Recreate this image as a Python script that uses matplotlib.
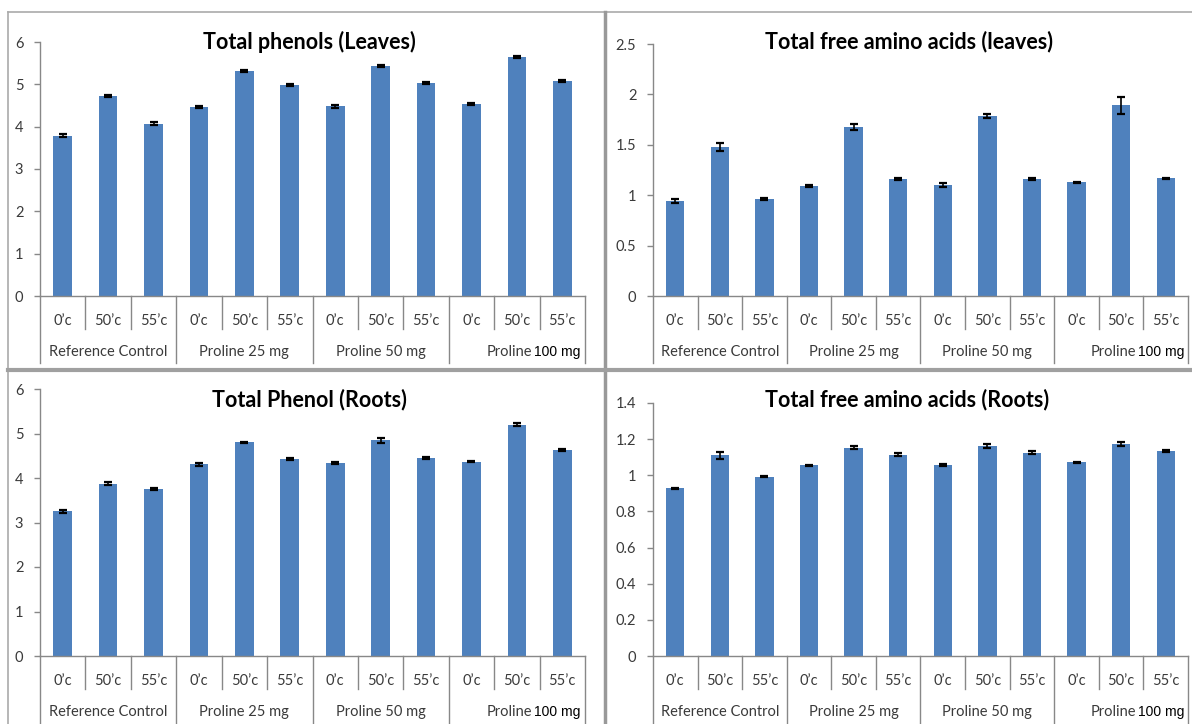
import numpy as np
import matplotlib
matplotlib.use('Agg')
from matplotlib import pyplot as plt
from matplotlib.lines import Line2D

W, H = 1192, 724

temps = ['0’c', '50’c', '55’c']
groups = ['Reference Control', 'Proline 25 mg', 'Proline 50 mg']

phenol_leaves = [3.79, 4.72, 4.07, 4.46, 5.31, 4.98, 4.48, 5.43, 5.03, 4.54, 5.65, 5.08]
phenol_leaves_err = [0.03, 0.03, 0.03, 0.03, 0.03, 0.03, 0.03, 0.03, 0.03, 0.03, 0.03, 0.03]

amino_leaves = [0.94, 1.48, 0.96, 1.09, 1.68, 1.16, 1.10, 1.79, 1.16, 1.13, 1.89, 1.17]
amino_leaves_err = [0.02, 0.04, 0.01, 0.01, 0.03, 0.01, 0.02, 0.02, 0.01, 0.005, 0.08, 0.005]

phenol_roots = [3.25, 3.87, 3.75, 4.31, 4.80, 4.43, 4.34, 4.85, 4.45, 4.37, 5.20, 4.63]
phenol_roots_err = [0.03, 0.03, 0.03, 0.03, 0.02, 0.03, 0.03, 0.06, 0.03, 0.02, 0.03, 0.03]

amino_roots = [0.927, 1.11, 0.993, 1.056, 1.153, 1.113, 1.058, 1.161, 1.126, 1.071, 1.174, 1.135]
amino_roots_err = [0.005, 0.02, 0.003, 0.003, 0.008, 0.008, 0.006, 0.01, 0.006, 0.005, 0.012, 0.005]

bar_color = '#4F81BD'
axis_gray = '#888888'
text_gray = '#3a3a3a'
base_font = 'Lato'

plt.rcParams['font.family'] = [base_font, 'DejaVu Sans']

fig = plt.figure(figsize=(W / 100, H / 100), dpi=100)
fig.patch.set_facecolor('white')


def px_axes(x0, x1, y0, y1):
    # pixel box (left, right, top, bottom) -> figure fraction axes
    return fig.add_axes([x0 / W, 1 - y1 / H, (x1 - x0) / W, (y1 - y0) / H])


def draw_panel(box, title, title_xy, vals, errs, ymax, ystep):
    x0, x1, y0, y1 = box
    ax = px_axes(x0, x1, y0, y1)
    hpx = y1 - y0
    xs = np.arange(len(vals))
    ax.bar(xs, vals, width=0.41, color=bar_color, zorder=2)
    ax.errorbar(xs, vals, yerr=errs, fmt='none', ecolor='black',
                elinewidth=1.2, capsize=3, capthick=1.6, zorder=3)
    ax.set_xlim(-0.5, len(vals) - 0.5)
    ax.set_ylim(0, ymax)
    ticks = np.arange(0, ymax + ystep / 2, ystep)
    ax.set_yticks(ticks)
    ax.set_yticklabels(['{:g}'.format(round(t, 2)) for t in ticks])
    ax.set_xticks([])
    for s in ['top', 'right']:
        ax.spines[s].set_visible(False)
    for s in ['left', 'bottom']:
        ax.spines[s].set_color(axis_gray)
        ax.spines[s].set_linewidth(1.0)
    ax.tick_params(axis='y', direction='out', length=4, width=1,
                   color=axis_gray, labelsize=10.5, labelcolor=text_gray, pad=8)

    tr = ax.get_xaxis_transform()
    row1 = -25 / hpx
    row2 = -56 / hpx
    short = -33 / hpx
    long_ = -67 / hpx
    for k in range(len(vals) + 1):
        xp = k - 0.5
        end = long_ if k % 3 == 0 else short
        ax.add_line(Line2D([xp, xp], [0, end], transform=tr, color=axis_gray,
                           lw=1.0, clip_on=False))
    for i, v in enumerate(vals):
        ax.text(i, row1, temps[i % 3], transform=tr, ha='center', va='center',
                fontsize=10.5, color=text_gray)
    for g, name in enumerate(groups):
        ax.text(3 * g + 1, row2, name, transform=tr, ha='center', va='center',
                fontsize=10.5, color=text_gray)
    ax.text(10.33, row2, 'Proline', transform=tr, ha='right', va='center',
            fontsize=10.5, color=text_gray)
    ax.text(10.37, row2, '100 mg', transform=tr, ha='left', va='center',
            fontsize=10, color='black', family='Liberation Sans')

    fig.text(title_xy[0] / W, 1 - title_xy[1] / H, title, ha='center',
             va='center', fontsize=15.5, fontweight='bold', color='black')
    return ax


draw_panel((40, 585, 42, 296), 'Total phenols (Leaves)', (309, 42),
           phenol_leaves, phenol_leaves_err, 6, 1)
draw_panel((653, 1188, 44, 296), 'Total free amino acids (leaves)', (909, 42),
           amino_leaves, amino_leaves_err, 2.5, 0.5)
draw_panel((40, 585, 389, 656), 'Total Phenol (Roots)', (309, 400),
           phenol_roots, phenol_roots_err, 6, 1)
draw_panel((653, 1188, 403, 656), 'Total free amino acids (Roots)', (907, 400),
           amino_roots, amino_roots_err, 1.4, 0.2)

# frame lines between the four charts
def fig_line(xa, ya, xb, yb, lw, color):
    fig.add_artist(Line2D([xa / W, xb / W], [1 - ya / H, 1 - yb / H],
                          transform=fig.transFigure, lw=lw, color=color))

fig_line(8, 12, W, 12, 1.2, '#aaaaaa')
fig_line(8, 12, 8, H, 1.2, '#aaaaaa')
fig_line(605, 12, 605, H, 2.5, '#999999')
fig_line(8, 370, W, 370, 3.0, '#a0a0a0')

fig.savefig('out.png', dpi=100)
